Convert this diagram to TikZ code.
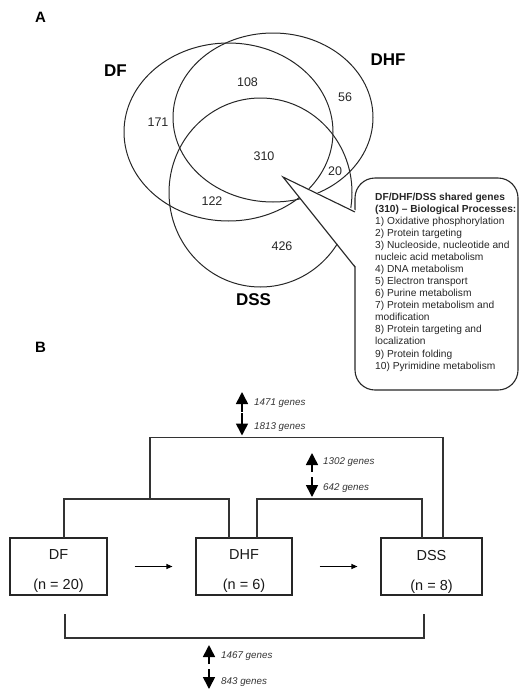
\documentclass[tikz,border=0pt]{standalone}
\usepackage{fontspec}
\setmainfont{Liberation Sans}
\usetikzlibrary{arrows.meta}
\begin{document}
\begin{tikzpicture}[x=1pt,y=-1pt,
  venn/.style={line width=1pt,draw=black!85},
  setlabel/.style={font=\fontsize{17}{17}\selectfont\bfseries,inner sep=0pt},
  panel/.style={font=\fontsize{15}{15}\selectfont\bfseries,inner sep=0pt},
  count/.style={font=\fontsize{12.5}{12.5}\selectfont,inner sep=0pt,text=black!85},
  bracket/.style={line width=1.3pt,draw=black!80},
  group/.style={draw=black!85,line width=1.1pt,minimum width=#1,minimum height=57pt,inner sep=0pt},
  grouptext/.style={inner sep=0pt,align=center,font=\fontsize{14.5}{30}\selectfont,text=black!90},
  genearrow/.style={line width=1.6pt,-{Triangle[length=12pt,width=12pt]}},
  genetext/.style={font=\fontsize{9.8}{9.8}\selectfont\itshape,inner sep=0pt,anchor=west,text=black!80},
  flow/.style={line width=1.1pt,-{Triangle[length=6pt,width=5pt]}}]
\useasboundingbox (0,0) rectangle (520,691);

% Panel A
\node[panel] (A) at (40.5,17.5) {A};
\draw[venn] (228.5,132) ellipse [x radius=104.5pt, y radius=89pt];
\draw[venn] (273,117.5) ellipse [x radius=100pt, y radius=84.5pt];
\draw[venn] (260.5,192.5) ellipse [x radius=91.5pt, y radius=94.5pt];
\node[setlabel] (lDF) at (115.5,70.5) {DF};
\node[setlabel] (lDHF) at (388,60) {DHF};
\node[setlabel] (lDSS) at (253.5,300) {DSS};
\node[count] (n108) at (247.5,82) {108};
\node[count] (n171) at (158,122) {171};
\node[count] (n56) at (345,97) {56};
\node[count] (n310) at (264,156) {310};
\node[count] (n20) at (335,171) {20};
\node[count] (n122) at (212,201) {122};
\node[count] (n426) at (282,246) {426};

% callout
\coordinate (tip) at (283,177);
\coordinate (j1) at (355,212);
\coordinate (j2) at (355,267);
\draw[line width=1.1pt,draw=black!85,rounded corners=20pt] (355,178) rectangle (518,390);
\fill[white] (tip) -- (357,211) -- (357,268) -- cycle;
\draw[line width=1.1pt,draw=black!85] (j1) -- (tip) -- (j2);
\node[anchor=north west,inner sep=0pt,align=left,text=black!85,
  font=\fontsize{10.2}{12.07}\selectfont] (callout) at (375,192.5)
 {\textbf{DF/DHF/DSS shared genes}\\
  \textbf{(310) – Biological Processes:}\\
  1) Oxidative phosphorylation\\
  2) Protein targeting\\
  3) Nucleoside, nucleotide and\\
  nucleic acid metabolism\\
  4) DNA metabolism\\
  5) Electron transport\\
  6) Purine metabolism\\
  7) Protein metabolism and\\
  modification\\
  8) Protein targeting and\\
  localization\\
  9) Protein folding\\
  10) Pyrimidine metabolism};

% Panel B
\node[panel] (B) at (40.5,347) {B};
\node[group=97pt] (df) at (58.5,566.5) {};
\node[group=96pt] (dhf) at (244,566.5) {};
\node[group=101pt] (dss) at (431.5,566.5) {};
\node[grouptext] (dft) at ([yshift=-5pt]df.center) {DF\\(n = 20)};
\node[grouptext] (dhft) at ([yshift=-5pt]dhf.center) {DHF\\(n = 6)};
\node[grouptext] (dsst) at ([yshift=-5pt]dss.center) {DSS\\(n = 8)};
\draw[flow] ([xshift=27pt]df.east) -- ([xshift=-23pt]dhf.west);
\draw[flow] ([xshift=27pt]dhf.east) -- ([xshift=-23pt]dss.west);

% brackets
\coordinate (t1) at (150,499);
\coordinate (t2) at (150,437.7);
\coordinate (t3) at (443,437.7);
\coordinate (t4) at (443,538);
\draw[bracket] (t1) -- (t2) -- (t3) -- (t4);
\coordinate (a1) at (64,538);
\coordinate (a2) at (64,499);
\coordinate (a3) at (229,499);
\coordinate (a4) at (229,538);
\draw[bracket] (a1) -- (a2) -- (a3) -- (a4);
\coordinate (b1) at (257,538);
\coordinate (b2) at (257,499);
\coordinate (b3) at (422,499);
\coordinate (b4) at (422,538);
\draw[bracket] (b1) -- (b2) -- (b3) -- (b4);
\coordinate (c1) at (65,614);
\coordinate (c2) at (65,638);
\coordinate (c3) at (424,638);
\coordinate (c4) at (424,614);
\draw[bracket] (c1) -- (c2) -- (c3) -- (c4);

% gene arrows
\coordinate (u1s) at (242,412); \coordinate (u1e) at (242,392);
\coordinate (d1s) at (242,413); \coordinate (d1e) at (242,435.5);
\draw[genearrow] (u1s) -- (u1e);
\draw[genearrow] (d1s) -- (d1e);
\node[genetext] (g1471) at (254,403) {1471 genes};
\node[genetext] (g1813) at (254,427) {1813 genes};

\coordinate (u2s) at (312,472); \coordinate (u2e) at (312,453);
\coordinate (d2s) at (312,477); \coordinate (d2e) at (312,497);
\draw[genearrow] (u2s) -- (u2e);
\draw[genearrow] (d2s) -- (d2e);
\node[genetext] (g1302) at (323,462) {1302 genes};
\node[genetext] (g642) at (323,488) {642 genes};

\coordinate (u3s) at (209,664); \coordinate (u3e) at (209,645);
\coordinate (d3s) at (209,669); \coordinate (d3e) at (209,689);
\draw[genearrow] (u3s) -- (u3e);
\draw[genearrow] (d3s) -- (d3e);
\node[genetext] (g1467) at (221,656.5) {1467 genes};
\node[genetext] (g843) at (221,682) {843 genes};
\end{tikzpicture}
\end{document}
